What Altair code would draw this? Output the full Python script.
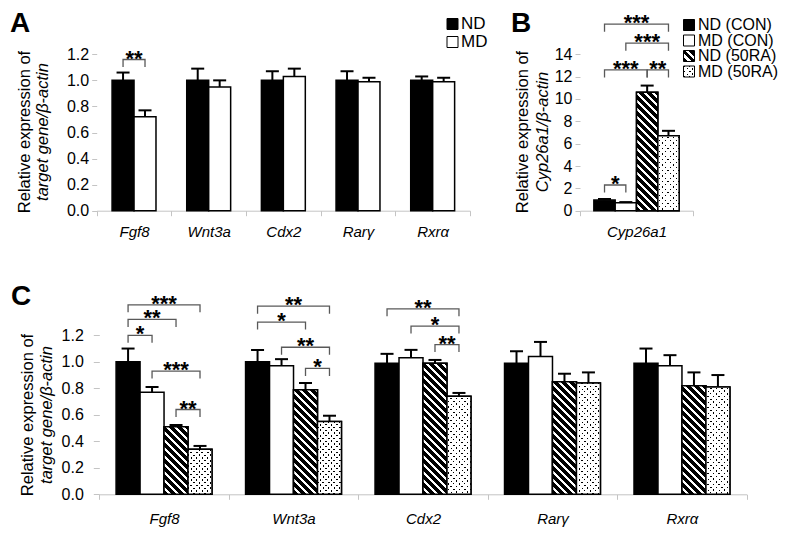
import altair as alt
import pandas as pd

FONT = "Liberation Sans"
W, H = 784, 522

# ---------------- data ----------------
genes = ["Fgf8", "Wnt3a", "Cdx2", "Rarγ", "Rxrα"]
groups2 = ["ND", "MD"]
groups4 = ["ND (CON)", "MD (CON)", "ND (50RA)", "MD (50RA)"]

# Panel A
a_nd = [1.00, 1.00, 1.00, 1.00, 1.00]
a_nd_err = [0.06, 0.09, 0.07, 0.07, 0.03]
a_md = [0.72, 0.95, 1.03, 0.99, 0.99]
a_md_err = [0.05, 0.05, 0.06, 0.03, 0.03]

# Panel B
b_genes = ["Cyp26a1"]
b_values = [0.95, 0.72, 10.6, 6.7]
b_err = [0.10, 0.05, 0.6, 0.45]

# Panel C
c_nd_con = [1.00, 1.00, 0.99, 0.99, 0.99]
c_nd_con_err = [0.10, 0.09, 0.07, 0.09, 0.11]
c_md_con = [0.77, 0.97, 1.03, 1.04, 0.97]
c_md_con_err = [0.04, 0.05, 0.06, 0.11, 0.08]
c_nd_ra = [0.51, 0.79, 0.99, 0.85, 0.82]
c_nd_ra_err = [0.013, 0.05, 0.024, 0.06, 0.10]
c_md_ra = [0.34, 0.55, 0.74, 0.84, 0.81]
c_md_ra_err = [0.025, 0.043, 0.025, 0.08, 0.09]

# significance brackets: gene, from, to, bracket height (data units), label
a_brackets = [("Fgf8", "ND", "MD", 1.16, "**")]
b_brackets = [
    ("Cyp26a1", "ND (CON)", "MD (50RA)", 16.7, "***"),
    ("Cyp26a1", "MD (CON)", "MD (50RA)", 15.0, "***"),
    ("Cyp26a1", "ND (CON)", "ND (50RA)", 12.6, "***"),
    ("Cyp26a1", "ND (50RA)", "MD (50RA)", 12.6, "**"),
    ("Cyp26a1", "ND (CON)", "MD (CON)", 2.3, "*"),
]
c_brackets = [
    ("Fgf8", "ND (CON)", "MD (50RA)", 1.43, "***"),
    ("Fgf8", "ND (CON)", "ND (50RA)", 1.32, "**"),
    ("Fgf8", "ND (CON)", "MD (CON)", 1.20, "*"),
    ("Fgf8", "MD (CON)", "MD (50RA)", 0.93, "***"),
    ("Fgf8", "ND (50RA)", "MD (50RA)", 0.64, "**"),
    ("Wnt3a", "ND (CON)", "MD (50RA)", 1.42, "**"),
    ("Wnt3a", "ND (CON)", "ND (50RA)", 1.30, "*"),
    ("Wnt3a", "MD (CON)", "MD (50RA)", 1.11, "**"),
    ("Wnt3a", "ND (50RA)", "MD (50RA)", 0.95, "*"),
    ("Cdx2", "ND (CON)", "MD (50RA)", 1.40, "**"),
    ("Cdx2", "MD (CON)", "MD (50RA)", 1.27, "*"),
    ("Cdx2", "ND (50RA)", "MD (50RA)", 1.13, "**"),
]


# ---------------- helpers ----------------
def diag_gradient(w, h, period, duty, c_on, c_off, back=True):
    """Stripe texture as an SVG linear gradient (45 degree stripes in pixels)."""
    k = (w + h) / (w * w + h * h)
    if back:
        x1, y1, x2, y2 = 0, 1, k * w, 1 - k * h
    else:
        x1, y1, x2, y2 = 0, 0, k * w, k * h
    n = (w + h) / period
    stops = []
    i = 0
    while i < n:
        a = min(i / n, 1.0)
        b = min((i + duty) / n, 1.0)
        c = min((i + 1) / n, 1.0)
        stops += [
            alt.GradientStop(color=c_on, offset=round(a, 5)),
            alt.GradientStop(color=c_on, offset=round(b, 5)),
            alt.GradientStop(color=c_off, offset=round(b, 5)),
            alt.GradientStop(color=c_off, offset=round(c, 5)),
        ]
        i += 1
    return alt.LinearGradient(gradient="linear", stops=stops,
                              x1=round(x1, 5), y1=round(y1, 5),
                              x2=round(x2, 5), y2=round(y2, 5))


def stripe_fill(w, h):
    return [diag_gradient(w, h, 8.0, 0.62, "black", "white", back=True)]


def dot_fill(w, h):
    return [
        diag_gradient(w, h, 5.5, 0.33, "black", "white", back=True),
        diag_gradient(w, h, 5.5, 0.33, "rgba(255,255,255,0)", "white", back=False),
    ]


def make_bars(x_genes, groups, series, errs):
    rows = []
    for gi, g in enumerate(groups):
        for xi, gene in enumerate(x_genes):
            v = series[gi][xi]
            e = errs[gi][xi]
            rows.append({"gene": gene, "group": g, "value": v, "top": v + e})
    return pd.DataFrame(rows)


def make_panel(bars, brackets, x_domain, groups, x0, x1, y0, y1, ymax, po,
               y_values, y_fmt, y_tick, y_pad, x_pad, textured, leg_px=7.5):
    n = len(groups)
    step = (x1 - x0) / len(x_domain)
    bw = step / (n + 2 * po)
    ppu = (y0 - y1) / ymax

    xs = alt.Scale(domain=x_domain, range=[x0, x1], paddingInner=0, paddingOuter=0)
    xos = alt.Scale(domain=groups, paddingInner=0, paddingOuter=po)
    ys = alt.Scale(domain=[0, ymax], range=[y0, y1], nice=False, zero=True)

    x_axis = alt.Axis(orient="bottom", offset=y0 - H, title=None, grid=False,
                      domainColor="#c4c4c4", domainWidth=1, tickColor="#c4c4c4",
                      tickSize=5, tickBand="extent", labelAngle=0, labelFont=FONT,
                      labelFontSize=15, labelFontStyle="italic", labelColor="black",
                      labelPadding=x_pad)
    y_axis = alt.Axis(orient="left", offset=-x0, title=None, grid=False, domain=False,
                      tickColor="#c4c4c4", tickSize=y_tick, values=y_values,
                      format=y_fmt, labelFont=FONT, labelFontSize=16,
                      labelColor="black", labelPadding=y_pad)

    X = alt.X("gene:N", scale=xs, axis=x_axis, title=None)
    XO = alt.XOffset("group:N", scale=xos)

    def Y(field):
        return alt.Y(f"{field}:Q", scale=ys, axis=y_axis, title=None)

    base_colors = ["black"] + ["white"] * (n - 1)
    layers = [
        alt.Chart(bars).mark_bar(stroke="black", strokeWidth=1.5).encode(
            x=X, xOffset=XO, y=Y("value"),
            fill=alt.Fill("group:N", scale=alt.Scale(domain=groups, range=base_colors),
                          legend=None),
        )
    ]
    # textured bars
    for i in range(len(bars)):
        row = bars.iloc[[i]]
        g = row["group"].iloc[0]
        if g not in textured:
            continue
        fills = textured[g](bw, row["value"].iloc[0] * ppu)
        for j, f in enumerate(fills):
            last = j == len(fills) - 1
            layers.append(
                alt.Chart(row).mark_bar(fill=f, stroke="black" if last else None,
                                        strokeWidth=1.5 if last else 0).encode(
                    x=X, xOffset=XO, y=Y("value"))
            )
    # error bars
    layers.append(alt.Chart(bars).mark_rule(color="black", strokeWidth=2).encode(
        x=X, xOffset=XO, y=Y("value"), y2=alt.Y2("top:Q")))
    layers.append(alt.Chart(bars).mark_tick(color="black", thickness=2, size=13,
                                            orient="horizontal", opacity=1).encode(
        x=X, xOffset=XO, y=Y("top")))

    # brackets
    leg = leg_px / ppu
    brows, trows = [], []
    for k, (gene, g1, g2, top, lab) in enumerate(brackets):
        pts = [(g1, top - leg), (g1, top), (g2, top), (g2, top - leg)]
        for o, (gg, yy) in enumerate(pts):
            brows.append({"id": k, "gene": gene, "group": gg, "value": yy, "o": o})
        trows.append({"gene": gene, "group": g1, "value": top, "label": lab,
                      "span": groups.index(g2) - groups.index(g1)})
    bdf = pd.DataFrame(brows)
    tdf = pd.DataFrame(trows)
    layers.append(alt.Chart(bdf).mark_line(color="#595959", strokeWidth=1.3).encode(
        x=X, xOffset=XO, y=Y("value"), detail="id:N", order="o:Q"))
    for span in sorted(tdf["span"].unique()):
        sub = tdf[tdf["span"] == span]
        layers.append(alt.Chart(sub).mark_text(
            font=FONT, fontSize=22, fontWeight="bold", color="black",
            baseline="alphabetic", align="center", dx=float(span) * bw / 2, dy=6).encode(
            x=X, xOffset=XO, y=Y("value"), text="label:N"))
    return alt.layer(*layers)


def text_mark(text, x, y, size, weight="normal", style="normal", angle=0,
              align="center", baseline="middle"):
    return alt.Chart(pd.DataFrame({"t": [text]})).mark_text(
        font=FONT, fontSize=size, fontWeight=weight, fontStyle=style, angle=angle,
        align=align, baseline=baseline, color="black").encode(
        x=alt.value(x), y=alt.value(y), text="t:N")


def legend(labels, icon_fills, x_sym, x_text, y_first, y_last, font_size, size=11):
    df = pd.DataFrame({"label": labels})
    ysc = alt.Scale(type="point", domain=labels, range=[y_first, y_last], padding=0)
    Yl = alt.Y("label:N", scale=ysc, axis=None)
    layers = []
    for lab, fills in zip(labels, icon_fills):
        sub = df[df["label"] == lab]
        for j, f in enumerate(fills):
            last = j == len(fills) - 1
            layers.append(alt.Chart(sub).mark_point(
                shape="square", filled=True, size=size * size, fill=f, opacity=1,
                stroke="black" if last else None, strokeWidth=1 if last else 0).encode(
                x=alt.value(x_sym), y=Yl))
    layers.append(alt.Chart(df).mark_text(
        font=FONT, fontSize=font_size, align="left", baseline="middle",
        color="black").encode(x=alt.value(x_text), y=Yl, text="label:N"))
    return alt.layer(*layers)


# ---------------- panels ----------------
yv1 = [0, 0.2, 0.4, 0.6, 0.8, 1.0, 1.2]
yv14 = [0, 2, 4, 6, 8, 10, 12, 14]

bars_a = make_bars(genes, groups2, [a_nd, a_md], [a_nd_err, a_md_err])
panel_a = make_panel(bars_a, a_brackets, genes, groups2,
                     x0=88.7, x1=462.0, y0=202.7, y1=46.3, ymax=1.2, po=0.7,
                     y_values=yv1, y_fmt=".1f", y_tick=5, y_pad=3, x_pad=9,
                     textured={})

bars_b = pd.DataFrame({"gene": b_genes * 4, "group": groups4, "value": b_values,
                       "top": [v + e for v, e in zip(b_values, b_err)]})
panel_b = make_panel(bars_b, b_brackets, b_genes, groups4,
                     x0=572.0, x1=685.0, y0=202.7, y1=46.3, ymax=14, po=0.65,
                     y_values=yv14, y_fmt="d", y_tick=5, y_pad=3, x_pad=9,
                     textured={"ND (50RA)": stripe_fill, "MD (50RA)": dot_fill})

bars_c = make_bars(genes, groups4, [c_nd_con, c_md_con, c_nd_ra, c_md_ra],
                   [c_nd_con_err, c_md_con_err, c_nd_ra_err, c_md_ra_err])
panel_c = make_panel(bars_c, c_brackets, genes, groups4,
                     x0=91.3, x1=738.7, y0=486.3, y1=327.3, ymax=1.2, po=0.7,
                     y_values=yv1, y_fmt=".1f", y_tick=6, y_pad=10, x_pad=12,
                     textured={"ND (50RA)": stripe_fill, "MD (50RA)": dot_fill})

legend_a = legend(groups2, [["black"], ["white"]], 444.5, 453, 16, 34, 17)
legend_b = legend(groups4, [["black"], ["white"], stripe_fill(11, 11), dot_fill(11, 11)],
                  681, 690, 17, 63.5, 16)

annotations = [
    text_mark("A", 2, 2, 28, weight="bold", align="left", baseline="top"),
    text_mark("B", 503, 2, 28, weight="bold", align="left", baseline="top"),
    text_mark("C", 3, 275, 28, weight="bold", align="left", baseline="top"),
    text_mark("Relative expression of", 17, 124, 16.5, angle=270),
    text_mark("target gene/β-actin", 35, 124, 16.5, style="italic", angle=270),
    text_mark("Relative expression of", 515, 124, 16.5, angle=270),
    text_mark("Cyp26a1/β-actin", 535, 124, 16.5, style="italic", angle=270),
    text_mark("Relative expression of", 20, 407, 16.5, angle=270),
    text_mark("target gene/β-actin", 38.7, 407, 16.5, style="italic", angle=270),
]

chart = alt.layer(panel_a, panel_b, panel_c, legend_a, legend_b, *annotations).resolve_scale(
    x="independent", y="independent", xOffset="independent"
).properties(
    width=W, height=H, padding=0, autosize=alt.AutoSizeParams(type="none")
).configure_view(stroke=None)

chart.save("out.html", embed_options={"renderer": "svg", "actions": False})
